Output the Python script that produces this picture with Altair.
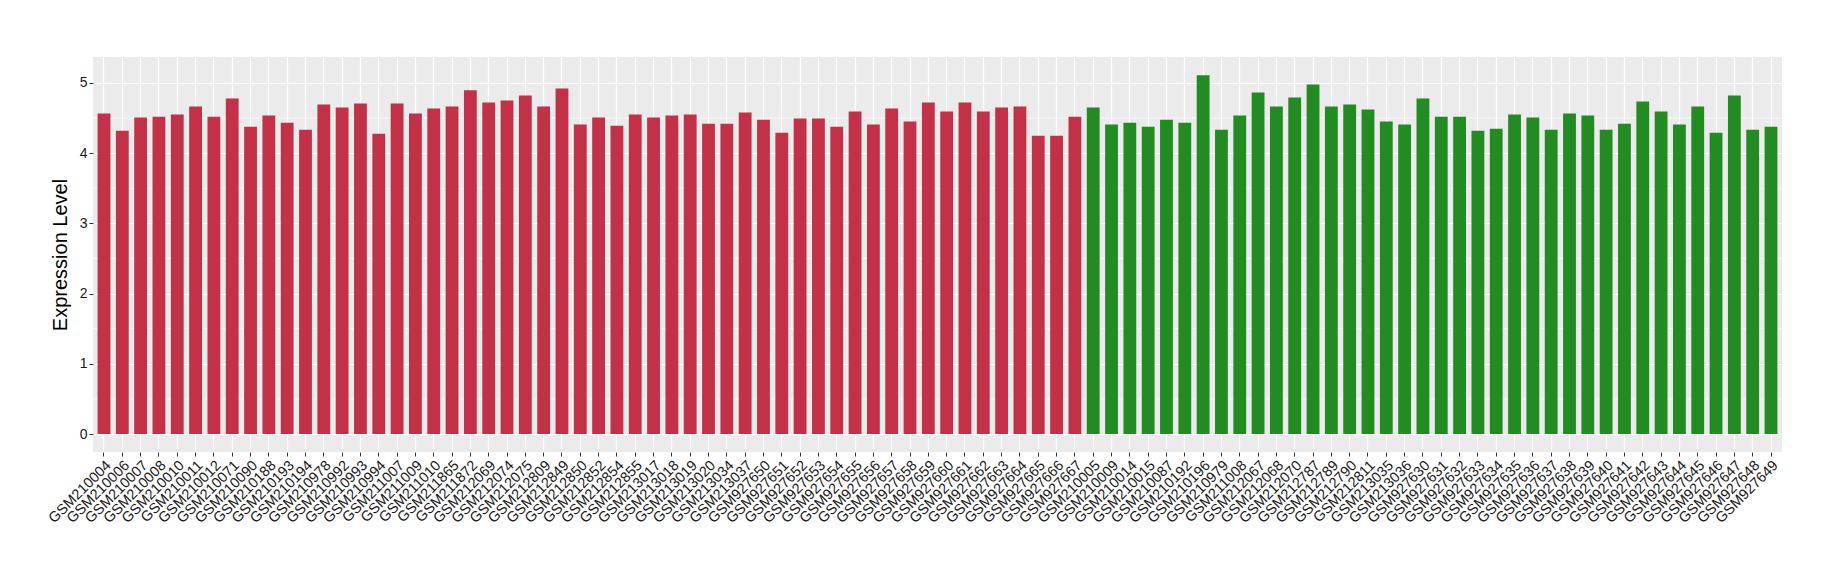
import altair as alt
import pandas as pd

names_red = [
    "GSM210004", "GSM210006", "GSM210007", "GSM210008", "GSM210010", "GSM210011",
    "GSM210012", "GSM210071", "GSM210090", "GSM210188", "GSM210193", "GSM210194",
    "GSM210978", "GSM210992", "GSM210993", "GSM210994", "GSM211007", "GSM211009",
    "GSM211010", "GSM211865", "GSM211872", "GSM212069", "GSM212074", "GSM212075",
    "GSM212809", "GSM212849", "GSM212850", "GSM212852", "GSM212854", "GSM212855",
    "GSM213017", "GSM213018", "GSM213019", "GSM213020", "GSM213034", "GSM213037",
    "GSM927650", "GSM927651", "GSM927652", "GSM927653", "GSM927654", "GSM927655",
    "GSM927656", "GSM927657", "GSM927658", "GSM927659", "GSM927660", "GSM927661",
    "GSM927662", "GSM927663", "GSM927664", "GSM927665", "GSM927666", "GSM927667",
]
values_red = [
    4.565, 4.32, 4.507, 4.52, 4.55, 4.665, 4.52, 4.78, 4.378, 4.536, 4.435, 4.335,
    4.694, 4.65, 4.708, 4.277, 4.708, 4.565, 4.636, 4.665, 4.895, 4.722, 4.751, 4.823,
    4.665, 4.923, 4.407, 4.507, 4.392, 4.55, 4.507, 4.536, 4.55, 4.421, 4.421, 4.579,
    4.478, 4.292, 4.493, 4.493, 4.378, 4.593, 4.407, 4.636, 4.45, 4.722, 4.593, 4.722,
    4.593, 4.65, 4.665, 4.249, 4.249, 4.52,
]
names_green = [
    "GSM210005", "GSM210009", "GSM210014", "GSM210015", "GSM210087", "GSM210192",
    "GSM210196", "GSM210979", "GSM211008", "GSM212067", "GSM212068", "GSM212070",
    "GSM212787", "GSM212789", "GSM212790", "GSM212811", "GSM213035", "GSM213036",
    "GSM927630", "GSM927631", "GSM927632", "GSM927633", "GSM927634", "GSM927635",
    "GSM927636", "GSM927637", "GSM927638", "GSM927639", "GSM927640", "GSM927641",
    "GSM927642", "GSM927643", "GSM927644", "GSM927645", "GSM927646", "GSM927647",
    "GSM927648", "GSM927649",
]
values_green = [
    4.65, 4.407, 4.435, 4.378, 4.478, 4.435, 5.11, 4.335, 4.536, 4.866, 4.665, 4.794,
    4.98, 4.665, 4.694, 4.622, 4.45, 4.407, 4.78, 4.52, 4.52, 4.32, 4.349, 4.55,
    4.507, 4.335, 4.565, 4.536, 4.335, 4.421, 4.737, 4.593, 4.407, 4.665, 4.292, 4.823,
    4.335, 4.378,
]
minor_grid = [0.5, 1.5, 2.5, 3.5, 4.5]
y_ticks = [0, 1, 2, 3, 4, 5]

names = names_red + names_green
df = pd.DataFrame({
    "sample": names,
    "value": values_red + values_green,
    "group": ["A"] * len(names_red) + ["B"] * len(names_green),
})
minor_df = pd.DataFrame({"v": minor_grid})

FONT = "Liberation Sans"
y_scale = alt.Scale(domain=[-0.256, 5.37], nice=False, zero=False)

minor = alt.Chart(minor_df).mark_rule(color="white", strokeWidth=0.6).encode(
    y=alt.Y("v:Q", scale=y_scale)
)

bars = alt.Chart(df).mark_bar().encode(
    x=alt.X(
        "sample:N",
        sort=names,
        scale=alt.Scale(paddingInner=0.3, paddingOuter=0.25),
        axis=alt.Axis(
            title=None,
            labelAngle=-45,
            labelAlign="right",
            labelBaseline="top",
            labelFont=FONT,
            labelFontSize=14.5,
            labelColor="#1a1a1a",
            labelPadding=2,
            labelOverlap=False,
            tickColor="#333333",
            tickSize=4,
            tickWidth=1,
            bandPosition=0.5,
            grid=True,
            gridColor="white",
            gridWidth=1.2,
            domain=False,
        ),
    ),
    y=alt.Y(
        "value:Q",
        scale=y_scale,
        axis=alt.Axis(
            title="Expression Level",
            titleFont=FONT,
            titleFontSize=20,
            titleFontWeight="normal",
            titleColor="black",
            titlePadding=9,
            values=y_ticks,
            format="d",
            labelFont=FONT,
            labelFontSize=14,
            labelColor="#1a1a1a",
            labelPadding=2,
            tickColor="#333333",
            tickSize=4,
            tickWidth=1,
            grid=True,
            gridColor="white",
            gridWidth=1.2,
            domain=False,
        ),
    ),
    y2=alt.datum(0),
    color=alt.Color(
        "group:N",
        scale=alt.Scale(domain=["A", "B"], range=["#C33149", "#228B22"]),
        legend=None,
    ),
)

chart = alt.layer(minor, bars).properties(
    width=1689,
    height=395,
    padding={"left": 85, "top": 49, "right": 49, "bottom": 120},
    autosize=alt.AutoSizeParams(type="none"),
    background="white",
).configure_view(fill="#EBEBEB", stroke=None)

chart.save("out.html", embed_options={"renderer": "svg", "actions": False})
